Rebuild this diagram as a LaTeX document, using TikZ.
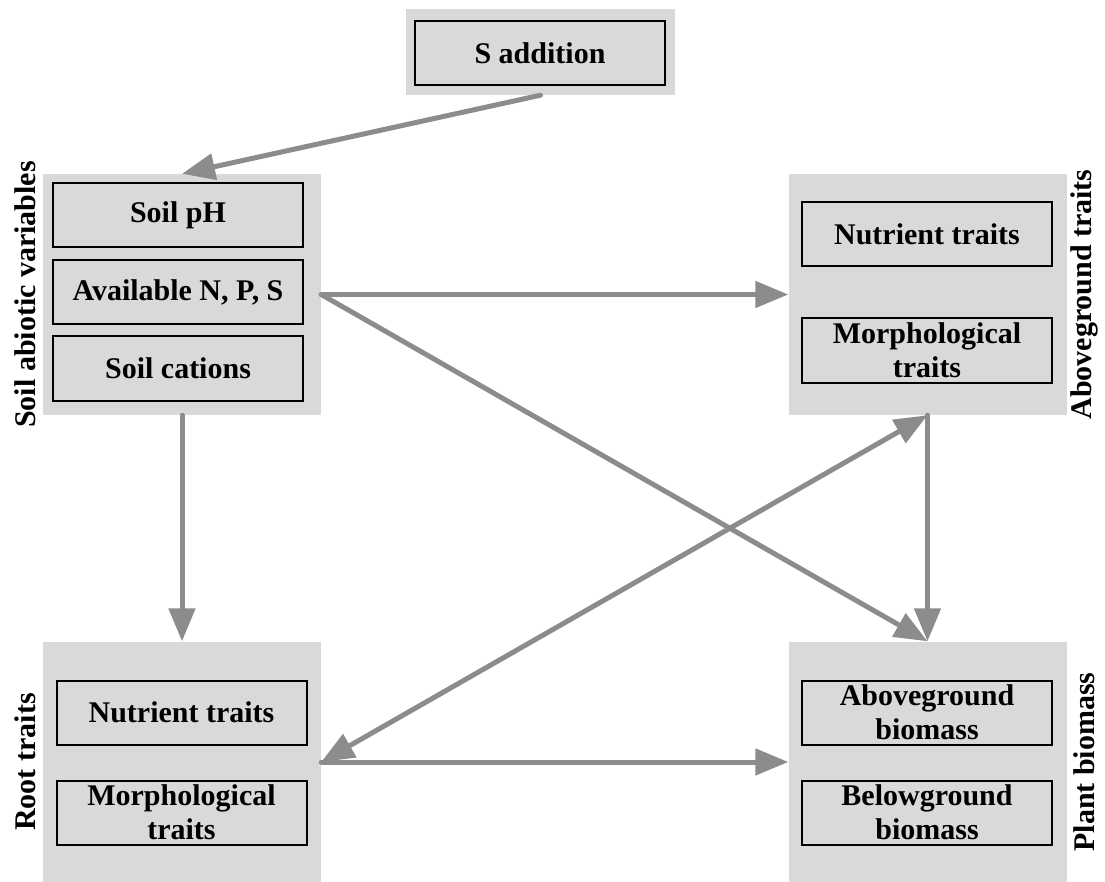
\documentclass[tikz,border=0pt]{standalone}
\usepackage{fontspec}
\setmainfont{Liberation Serif}
\usetikzlibrary{arrows.meta}
\definecolor{boxgray}{RGB}{217,217,217}
\definecolor{arrowgray}{RGB}{140,140,140}
\begin{document}
\begin{tikzpicture}[x=1pt,y=-1pt,
  group/.style={fill=boxgray, draw=none, minimum width=278pt, minimum height=241pt, inner sep=0pt},
  item/.style={fill=boxgray, draw=black, line width=2pt, minimum width=250pt, minimum height=64pt, inner sep=0pt, align=center, font=\bfseries\fontsize{30}{34}\selectfont},
  side/.style={rotate=90, font=\bfseries\fontsize{30}{34}\selectfont, inner sep=0pt},
  conn/.style={draw=arrowgray, line width=5pt, line cap=round, -{Triangle[length=33pt,width=26pt]}},
  biconn/.style={draw=arrowgray, line width=5pt, line cap=round, {Triangle[length=33pt,width=26pt]}-{Triangle[length=33pt,width=26pt]}}]
\useasboundingbox (0,0) rectangle (1105,882);
% S addition
\node[group, minimum width=269pt, minimum height=86pt] (sg) at (540.5,52) {};
\node[item] (s) at (540,53) {S addition};
% Soil abiotic variables
\node[group] (soil) at (182,294.5) {};
\node[item] (ph) at (178,215) {Soil pH};
\node[item] (npk) at (178,292) {Available N, P, S};
\node[item] (cat) at (178,368.5) {Soil cations};
\node[side] (soillab) at (25,294.5) {Soil abiotic variables};
% Aboveground traits
\node[group] (ag) at (927.5,294.5) {};
\node[item] (agn) at (927,234.5) {Nutrient traits};
\node[item] (agm) at (927,350.5) {Morphological\\traits};
\node[side] (aglab) at (1084,294.5) {Aboveground traits};
% Root traits
\node[group] (root) at (182,762) {};
\node[item] (rtn) at (181.5,712.5) {Nutrient traits};
\node[item] (rtm) at (181.5,812.5) {Morphological\\traits};
\node[side] (rootlab) at (25,762) {Root traits};
% Plant biomass
\node[group] (pb) at (927.5,762) {};
\node[item] (pba) at (927,712.5) {Aboveground\\biomass};
\node[item] (pbb) at (927,812.5) {Belowground\\biomass};
\node[side] (pblab) at (1084,762) {Plant biomass};
% connectors
\draw[conn] (sg.south) -- (soil.north);
\draw[conn] (soil.east) -- (ag.west);
\draw[conn] (soil.east) -- (pb.north);
\draw[conn] (soil.south) -- (root.north);
\draw[conn] (ag.south) -- (pb.north);
\draw[conn] (root.east) -- (pb.west);
\draw[biconn] (root.east) -- (ag.south);
\end{tikzpicture}
\end{document}
